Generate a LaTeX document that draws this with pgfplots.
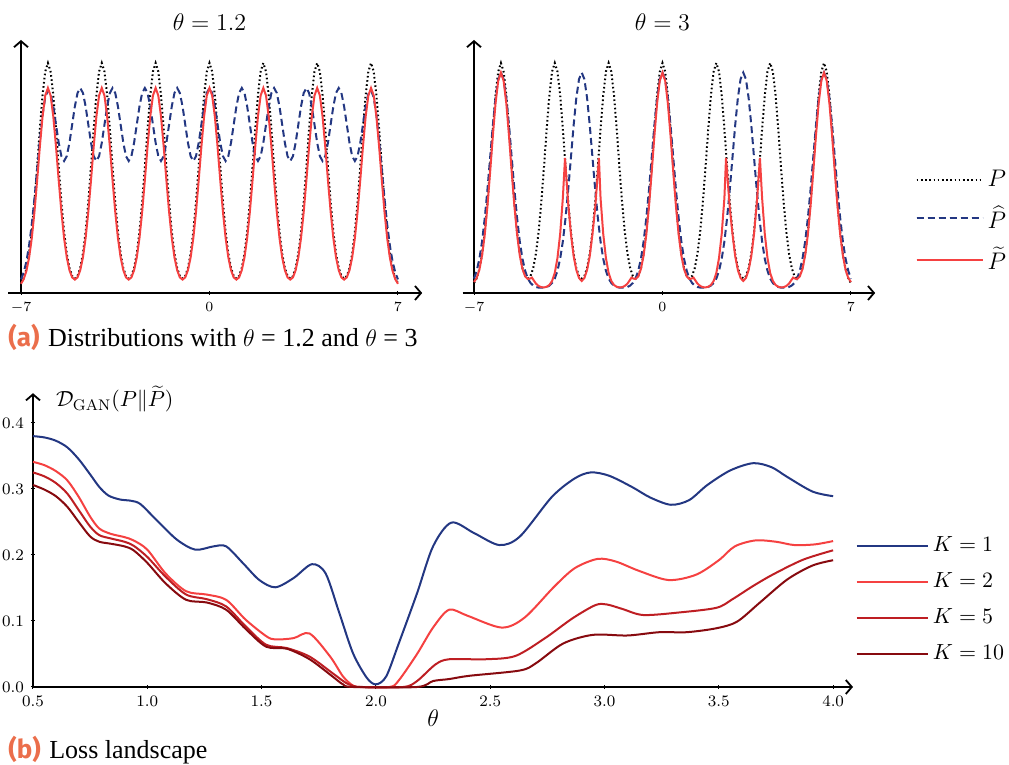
\documentclass[border=0pt]{standalone}
\usepackage{fontspec}
\usepackage{pgfplots}
\usepackage{pgfplotstable}
\pgfplotsset{compat=1.18}
\usetikzlibrary{arrows.meta}
\newfontfamily\fira{Fira Sans}
\newfontfamily\capserif{Liberation Serif}
\definecolor{navy}{RGB}{35,55,130}
\definecolor{lred}{RGB}{245,65,65}
\definecolor{mred}{RGB}{190,30,35}
\definecolor{dred}{RGB}{135,10,15}
\definecolor{capor}{RGB}{235,110,75}

\pgfplotstableread{
x P Ph1 Pt1 Ph2
-7.0 0.024 0.043 0.021 0.047
-6.9 0.049 0.078 0.044 0.086
-6.8 0.095 0.132 0.085 0.146
-6.7 0.170 0.212 0.151 0.233
-6.6 0.280 0.318 0.249 0.350
-6.5 0.429 0.448 0.381 0.493
-6.4 0.606 0.593 0.539 0.653
-6.3 0.795 0.739 0.707 0.813
-6.2 0.964 0.865 0.857 0.950
-6.1 1.082 0.953 0.962 1.044
-6.0 1.125 0.989 1.000 1.077
-5.9 1.082 0.970 0.962 1.044
-5.8 0.964 0.908 0.857 0.950
-5.7 0.795 0.817 0.707 0.813
-5.6 0.606 0.726 0.539 0.653
-5.5 0.429 0.659 0.381 0.493
-5.4 0.281 0.635 0.250 0.350
-5.3 0.172 0.659 0.153 0.233
-5.2 0.100 0.726 0.089 0.146
-5.1 0.060 0.817 0.053 0.086
-5.0 0.047 0.908 0.042 0.047
-4.9 0.060 0.975 0.053 0.025
-4.8 0.100 1.000 0.089 0.012
-4.7 0.172 0.975 0.153 0.005
-4.6 0.281 0.908 0.250 0.002
-4.5 0.429 0.817 0.381 0.002
-4.4 0.606 0.726 0.539 0.002
-4.3 0.795 0.659 0.707 0.005
-4.2 0.964 0.635 0.857 0.012
-4.1 1.082 0.659 0.962 0.025
-4.0 1.125 0.726 1.000 0.047
-3.9 1.082 0.817 0.962 0.086
-3.8 0.964 0.908 0.857 0.146
-3.7 0.795 0.975 0.707 0.233
-3.6 0.606 1.000 0.539 0.350
-3.5 0.429 0.975 0.381 0.493
-3.4 0.281 0.908 0.250 0.653
-3.3 0.172 0.817 0.153 0.813
-3.2 0.100 0.726 0.089 0.950
-3.1 0.060 0.659 0.053 1.044
-3.0 0.047 0.635 0.042 1.077
-2.9 0.060 0.659 0.053 1.044
-2.8 0.100 0.726 0.089 0.950
-2.7 0.172 0.817 0.153 0.813
-2.6 0.281 0.908 0.250 0.653
-2.5 0.429 0.975 0.381 0.493
-2.4 0.606 1.000 0.539 0.350
-2.3 0.795 0.975 0.707 0.233
-2.2 0.964 0.908 0.857 0.146
-2.1 1.082 0.817 0.962 0.086
-2.0 1.125 0.726 1.000 0.047
-1.9 1.082 0.659 0.962 0.025
-1.8 0.964 0.635 0.857 0.012
-1.7 0.795 0.659 0.707 0.005
-1.6 0.606 0.726 0.539 0.002
-1.5 0.429 0.817 0.381 0.002
-1.4 0.281 0.908 0.250 0.002
-1.3 0.172 0.975 0.153 0.005
-1.2 0.100 1.000 0.089 0.012
-1.1 0.060 0.975 0.053 0.025
-1.0 0.047 0.908 0.042 0.047
-0.9 0.060 0.817 0.053 0.086
-0.8 0.100 0.726 0.089 0.146
-0.7 0.172 0.659 0.153 0.233
-0.6 0.281 0.635 0.250 0.350
-0.5 0.429 0.659 0.381 0.493
-0.4 0.606 0.726 0.539 0.653
-0.3 0.795 0.817 0.707 0.813
-0.2 0.964 0.908 0.857 0.950
-0.1 1.082 0.975 0.962 1.044
0.0 1.125 1.000 1.000 1.077
0.1 1.082 0.975 0.962 1.044
0.2 0.964 0.908 0.857 0.950
0.3 0.795 0.817 0.707 0.813
0.4 0.606 0.726 0.539 0.653
0.5 0.429 0.659 0.381 0.493
0.6 0.281 0.635 0.250 0.350
0.7 0.172 0.659 0.153 0.233
0.8 0.100 0.726 0.089 0.146
0.9 0.060 0.817 0.053 0.086
1.0 0.047 0.908 0.042 0.047
1.1 0.060 0.975 0.053 0.025
1.2 0.100 1.000 0.089 0.012
1.3 0.172 0.975 0.153 0.005
1.4 0.281 0.908 0.250 0.002
1.5 0.429 0.817 0.381 0.002
1.6 0.606 0.726 0.539 0.002
1.7 0.795 0.659 0.707 0.005
1.8 0.964 0.635 0.857 0.012
1.9 1.082 0.659 0.962 0.025
2.0 1.125 0.726 1.000 0.047
2.1 1.082 0.817 0.962 0.086
2.2 0.964 0.908 0.857 0.146
2.3 0.795 0.975 0.707 0.233
2.4 0.606 1.000 0.539 0.350
2.5 0.429 0.975 0.381 0.493
2.6 0.281 0.908 0.250 0.653
2.7 0.172 0.817 0.153 0.813
2.8 0.100 0.726 0.089 0.950
2.9 0.060 0.659 0.053 1.044
3.0 0.047 0.635 0.042 1.077
3.1 0.060 0.659 0.053 1.044
3.2 0.100 0.726 0.089 0.950
3.3 0.172 0.817 0.153 0.813
3.4 0.281 0.908 0.250 0.653
3.5 0.429 0.975 0.381 0.493
3.6 0.606 1.000 0.539 0.350
3.7 0.795 0.975 0.707 0.233
3.8 0.964 0.908 0.857 0.146
3.9 1.082 0.817 0.962 0.086
4.0 1.125 0.726 1.000 0.047
4.1 1.082 0.659 0.962 0.025
4.2 0.964 0.635 0.857 0.012
4.3 0.795 0.659 0.707 0.005
4.4 0.606 0.726 0.539 0.002
4.5 0.429 0.817 0.381 0.002
4.6 0.281 0.908 0.250 0.002
4.7 0.172 0.975 0.153 0.005
4.8 0.100 1.000 0.089 0.012
4.9 0.060 0.975 0.053 0.025
5.0 0.047 0.908 0.042 0.047
5.1 0.060 0.817 0.053 0.086
5.2 0.100 0.726 0.089 0.146
5.3 0.172 0.659 0.153 0.233
5.4 0.281 0.635 0.250 0.350
5.5 0.429 0.659 0.381 0.493
5.6 0.606 0.726 0.539 0.653
5.7 0.795 0.817 0.707 0.813
5.8 0.964 0.908 0.857 0.950
5.9 1.082 0.970 0.962 1.044
6.0 1.125 0.989 1.000 1.077
6.1 1.082 0.953 0.962 1.044
6.2 0.964 0.865 0.857 0.950
6.3 0.795 0.739 0.707 0.813
6.4 0.606 0.593 0.539 0.653
6.5 0.429 0.448 0.381 0.493
6.6 0.280 0.318 0.249 0.350
6.7 0.170 0.212 0.151 0.233
6.8 0.095 0.132 0.085 0.146
6.9 0.049 0.078 0.044 0.086
7.0 0.024 0.043 0.021 0.047
}\topdata

\pgfplotstableread{
x y
-7.0 0.030
-6.9 0.050
-6.8 0.091
-6.7 0.163
-6.6 0.268
-6.5 0.410
-6.4 0.581
-6.3 0.761
-6.2 0.923
-6.1 1.036
-6.0 1.077
-5.9 1.036
-5.8 0.923
-5.7 0.761
-5.6 0.581
-5.5 0.410
-5.4 0.268
-5.3 0.163
-5.2 0.095
-5.1 0.058
-5.0 0.045
-4.9 0.048
-4.85 0.052
-4.8 0.042
-4.7 0.022
-4.6 0.010
-4.5 0.004
-4.4 0.003
-4.3 0.006
-4.2 0.015
-4.1 0.035
-4.0 0.075
-3.9 0.150
-3.8 0.270
-3.7 0.450
-3.62 0.650
-3.5 0.420
-3.4 0.270
-3.3 0.160
-3.2 0.090
-3.1 0.050
-3.0 0.035
-2.9 0.050
-2.8 0.090
-2.7 0.160
-2.6 0.270
-2.5 0.400
-2.36 0.650
-2.3 0.450
-2.2 0.270
-2.1 0.150
-2.0 0.075
-1.9 0.035
-1.8 0.015
-1.7 0.006
-1.6 0.003
-1.5 0.004
-1.4 0.010
-1.3 0.022
-1.2 0.042
-1.15 0.052
-1.1 0.048
-1.0 0.045
-0.9 0.058
-0.8 0.095
-0.7 0.163
-0.6 0.268
-0.5 0.410
-0.4 0.581
-0.3 0.761
-0.2 0.923
-0.1 1.036
0.0 1.077
0.1 1.036
0.2 0.923
0.3 0.761
0.4 0.581
0.5 0.410
0.6 0.268
0.7 0.163
0.8 0.095
0.9 0.058
1.0 0.045
1.1 0.048
1.15 0.052
1.2 0.042
1.3 0.022
1.4 0.010
1.5 0.004
1.6 0.003
1.7 0.006
1.8 0.015
1.9 0.035
2.0 0.075
2.1 0.150
2.2 0.270
2.3 0.450
2.36 0.650
2.5 0.400
2.6 0.270
2.7 0.160
2.8 0.090
2.9 0.050
3.0 0.035
3.1 0.050
3.2 0.090
3.3 0.160
3.4 0.270
3.5 0.420
3.62 0.650
3.7 0.450
3.8 0.270
3.9 0.150
4.0 0.075
4.1 0.035
4.2 0.015
4.3 0.006
4.4 0.003
4.5 0.004
4.6 0.010
4.7 0.022
4.8 0.042
4.85 0.052
4.9 0.048
5.0 0.045
5.1 0.058
5.2 0.095
5.3 0.163
5.4 0.268
5.5 0.410
5.6 0.581
5.7 0.761
5.8 0.923
5.9 1.036
6.0 1.077
6.1 1.036
6.2 0.923
6.3 0.761
6.4 0.581
6.5 0.410
6.6 0.268
6.7 0.163
6.8 0.091
6.9 0.050
7.0 0.030
}\ptiltwo

\pgfplotstableread{
x y
0.50 0.380
0.55 0.378
0.60 0.373
0.65 0.363
0.70 0.345
0.75 0.322
0.79 0.303
0.83 0.290
0.88 0.284
0.93 0.282
0.97 0.277
1.04 0.253
1.13 0.223
1.21 0.208
1.29 0.213
1.345 0.213
1.42 0.187
1.49 0.162
1.56 0.151
1.64 0.165
1.72 0.186
1.78 0.172
1.84 0.112
1.90 0.051
1.96 0.014
2.00 0.004
2.045 0.016
2.10 0.066
2.18 0.142
2.25 0.213
2.33 0.249
2.43 0.233
2.54 0.215
2.63 0.228
2.77 0.288
2.87 0.316
2.94 0.325
3.02 0.320
3.12 0.303
3.20 0.287
3.29 0.276
3.37 0.283
3.45 0.306
3.55 0.328
3.65 0.339
3.73 0.333
3.80 0.318
3.91 0.296
4.00 0.289
}\kone

\pgfplotstableread{
x y
0.50 0.341
0.55 0.336
0.60 0.327
0.65 0.313
0.70 0.288
0.75 0.258
0.79 0.240
0.84 0.232
0.90 0.227
0.94 0.222
1.00 0.208
1.08 0.172
1.17 0.145
1.26 0.140
1.345 0.132
1.43 0.102
1.52 0.077
1.56 0.072
1.64 0.074
1.71 0.081
1.80 0.046
1.856 0.016
1.90 0.002
1.93 0.000
2.06 0.000
2.10 0.010
2.18 0.050
2.25 0.090
2.32 0.117
2.40 0.108
2.55 0.090
2.65 0.105
2.78 0.152
2.87 0.180
2.97 0.194
3.05 0.190
3.15 0.176
3.28 0.162
3.40 0.170
3.50 0.192
3.57 0.213
3.66 0.222
3.75 0.220
3.83 0.215
3.92 0.216
4.00 0.221
}\ktwo

\pgfplotstableread{
x y
0.50 0.325
0.55 0.319
0.60 0.309
0.65 0.293
0.70 0.268
0.75 0.243
0.79 0.230
0.84 0.225
0.90 0.220
0.94 0.214
1.00 0.197
1.08 0.167
1.17 0.140
1.26 0.133
1.345 0.122
1.43 0.092
1.52 0.064
1.61 0.059
1.71 0.046
1.81 0.021
1.87 0.006
1.91 0.001
1.94 0.000
2.12 0.000
2.18 0.009
2.26 0.034
2.32 0.042
2.48 0.042
2.61 0.047
2.74 0.074
2.86 0.104
2.96 0.124
3.01 0.125
3.08 0.118
3.17 0.109
3.33 0.113
3.49 0.120
3.56 0.133
3.65 0.153
3.74 0.171
3.87 0.193
4.00 0.207
}\kfive

\pgfplotstableread{
x y
0.50 0.306
0.55 0.299
0.60 0.289
0.65 0.273
0.70 0.250
0.75 0.228
0.79 0.220
0.84 0.217
0.90 0.213
0.94 0.207
1.00 0.188
1.08 0.157
1.17 0.132
1.26 0.128
1.345 0.117
1.43 0.088
1.52 0.061
1.61 0.058
1.71 0.042
1.81 0.016
1.856 0.004
1.90 0.000
2.18 0.000
2.25 0.009
2.32 0.012
2.41 0.017
2.63 0.025
2.70 0.036
2.82 0.066
2.95 0.079
3.10 0.078
3.24 0.083
3.36 0.083
3.49 0.089
3.58 0.099
3.68 0.128
3.80 0.163
3.91 0.184
4.00 0.192
}\kten

\pgfplotsset{
  myarrowaxis/.style={
    axis x line=bottom, axis y line=left,
    axis line style={line width=0.9pt, -{Straight Barb[length=3pt,width=7pt]}},
    tick style={black, line width=0.5pt},
    major tick length=2pt,
    clip=false,
  },
  topax/.style={
    myarrowaxis,
    scale only axis, width=200.6pt, height=126.5pt,
    xmin=-7, xmax=7.9, ymin=-0.025, ymax=1.24,
    xtick={-7,0,7}, ytick=\empty,
    tick label style={font=\scriptsize},
  },
  pline/.style={black, line width=1pt, dash pattern=on 0.8pt off 1.3pt},
  hline/.style={navy, line width=1pt, dash pattern=on 3.5pt off 2pt},
  tline/.style={lred, line width=1pt},
}

\begin{document}
\begin{tikzpicture}
\path[use as bounding box] (-16.5pt,-39pt) rectangle (488pt,343.5pt);

% panel theta = 1.2
\begin{axis}[topax, at={(-6pt,197pt)}, anchor=south west]
\draw[line width=0.9pt] (axis cs:-7.48,-0.025) -- (axis cs:-7,-0.025);
\addplot[pline] table[x=x,y=P]{\topdata};
\addplot[hline] table[x=x,y=Ph1]{\topdata};
\addplot[tline] table[x=x,y=Pt1]{\topdata};
\node[font=\large] at (axis cs:0,1.33) {$\theta = 1.2$};
\end{axis}

% panel theta = 3
\begin{axis}[topax, at={(220.5pt,197pt)}, anchor=south west,
  legend style={at={(1.10,0.502)}, anchor=north west, draw=none, fill=none,
    font=\large, row sep=4pt, inner sep=0pt},
  legend cell align=left,
  legend image code/.code={\draw[#1] (0pt,0pt) -- (32pt,0pt); \path (0pt,0pt) -- (33pt,0pt);}]
\draw[line width=0.9pt] (axis cs:-7.42,-0.025) -- (axis cs:-7,-0.025);
\addplot[pline] table[x=x,y=P]{\topdata};
\addlegendentry{$P$}
\addplot[hline] table[x=x,y=Ph2]{\topdata};
\addlegendentry{$\widehat{P}$}
\addplot[tline] table[x=x,y=y]{\ptiltwo};
\addlegendentry{$\widetilde{P}$}
\node[font=\large] at (axis cs:0,1.33) {$\theta = 3$};
\end{axis}

% loss landscape
\begin{axis}[myarrowaxis, at={(0pt,0pt)}, anchor=south west,
  scale only axis, width=410pt, height=146.9pt,
  xmin=0.5, xmax=4.087, ymin=0, ymax=0.445,
  xtick={0.5,1.0,1.5,2.0,2.5,3.0,3.5,4.0},
  ytick={0,0.1,0.2,0.3,0.4},
  tick label style={font=\footnotesize, /pgf/number format/.cd, fixed, fixed zerofill, precision=1},
  legend style={at={(1.003,0.526)}, anchor=north west, draw=none, fill=none,
    font=\fontsize{11}{13}\selectfont, row sep=5pt, inner sep=0pt},
  legend cell align=left,
  legend image code/.code={\draw[#1] (0pt,0pt) -- (26.5pt,0pt); \path (0pt,0pt) -- (35.5pt,0pt);}]
\addplot[navy, line width=1pt, smooth] table[x=x,y=y]{\kone};
\addlegendentry{$K = 1$}
\addplot[lred, line width=1pt, smooth] table[x=x,y=y]{\ktwo};
\addlegendentry{$K = 2$}
\addplot[mred, line width=1pt, smooth] table[x=x,y=y]{\kfive};
\addlegendentry{$K = 5$}
\addplot[dred, line width=1pt, smooth] table[x=x,y=y]{\kten};
\addlegendentry{$K = 10$}
\node[anchor=west, font=\fontsize{11}{13}\selectfont] at (axis cs:0.5,0.436) [xshift=8pt] {$\mathcal{D}_{\mathrm{GAN}}(P\|\widetilde{P})$};
\node[font=\large] at (axis cs:2.25,0) [yshift=-15.5pt] {$\theta$};
\end{axis}

% captions
\node[anchor=west, inner sep=0pt, font=\fontsize{13}{15}\selectfont] at (-12.5pt,175pt)
  {{\fira\bfseries\color{capor}(a)}\ {\capserif Distributions with $\theta$ = 1.2 and $\theta$ = 3}};
\node[anchor=west, inner sep=0pt, font=\fontsize{13}{15}\selectfont] at (-12.5pt,-31.5pt)
  {{\fira\bfseries\color{capor}(b)}\ {\capserif Loss landscape}};
\end{tikzpicture}
\end{document}
